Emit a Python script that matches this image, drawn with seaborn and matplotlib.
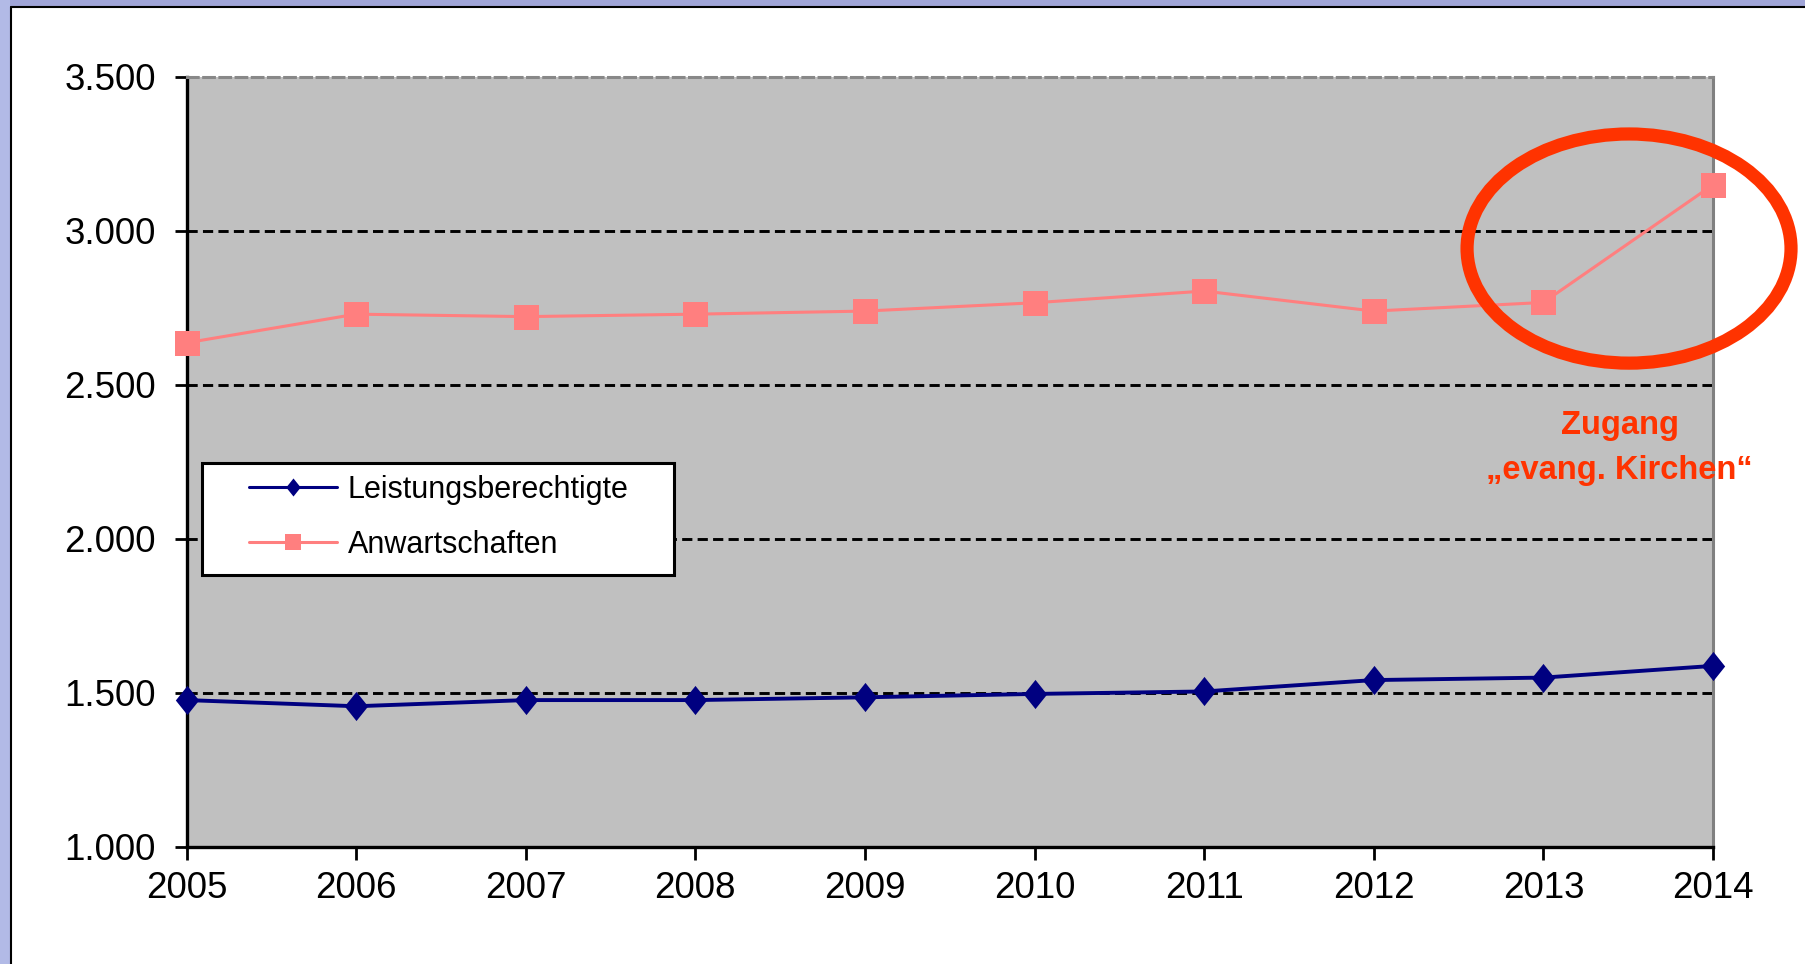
import numpy as np
import pandas as pd
import matplotlib.pyplot as plt
import seaborn as sns
from matplotlib.patches import Ellipse, Rectangle
from matplotlib.lines import Line2D

# data
years = [2005, 2006, 2007, 2008, 2009, 2010, 2011, 2012, 2013, 2014]
leistung = [1477, 1457, 1477, 1477, 1486, 1497, 1505, 1542, 1550, 1588]
anwart = [2637, 2730, 2722, 2730, 2740, 2767, 2805, 2740, 2768, 3150]
series_names = ['Leistungsberechtigte', 'Anwartschaften']
y_ticks = [1000, 1500, 2000, 2500, 3000, 3500]
y_tick_labels = ['1.000', '1.500', '2.000', '2.500', '3.000', '3.500']
note_lines = ['Zugang', '\u201eevang. Kirchen\u201c']

df = pd.DataFrame({
    'Jahr': years * 2,
    'Wert': leistung + anwart,
    'Reihe': [series_names[0]] * len(years) + [series_names[1]] * len(years),
})

colors = {series_names[0]: '#000080', series_names[1]: '#FF7F7F'}
diamond = [(0, 1), (0.8, 0), (0, -1), (-0.8, 0), (0, 1)]
markers = {series_names[0]: diamond, series_names[1]: 's'}
red = '#FF3300'

sns.set_style('white')
plt.rcParams['font.family'] = ['Liberation Sans', 'DejaVu Sans']

W, H = 1805, 964
fig = plt.figure(figsize=(W / 100, H / 100), dpi=100)
fig.patch.set_facecolor('white')

# pixel box of the plot area
px_l, px_r, px_t, px_b = 186.5, 1713, 77, 847
ax = fig.add_axes([px_l / W, 1 - px_b / H, (px_r - px_l) / W, (px_b - px_t) / H])
ax.set_facecolor('#C0C0C0')

for v in y_ticks[1:-1]:
    ax.axhline(v, color='black', lw=2.1, ls=(0, (3.5, 1.8)), zorder=1)

sns.lineplot(data=df, x='Jahr', y='Wert', hue='Reihe', style='Reihe',
             palette=colors, markers=markers, dashes=False, legend=False,
             ax=ax, zorder=3, markeredgewidth=0, clip_on=False)

lines = ax.get_lines()[-2:]
lines[0].set_linewidth(2.8)
lines[0].set_markersize(21)
lines[1].set_linewidth(2.2)
lines[1].set_markersize(18)

ax.set_xlim(years[0], years[-1])
ax.set_ylim(y_ticks[0], y_ticks[-1])
ax.set_xticks(years)
ax.set_xticklabels([str(y) for y in years])
ax.set_yticks(y_ticks)
ax.set_yticklabels(y_tick_labels)
ax.set_xlabel('')
ax.set_ylabel('')
ax.tick_params(axis='y', which='major', labelsize=26.5, length=9, width=2,
               pad=13, direction='out', left=True, colors='black')
ax.tick_params(axis='x', which='major', labelsize=26.5, length=9, width=2,
               pad=8, direction='out', bottom=True, colors='black')

for s in ['left', 'bottom']:
    ax.spines[s].set_color('black')
    ax.spines[s].set_linewidth(2.4)
ax.spines['right'].set_color('#808080')
ax.spines['right'].set_linewidth(2.2)
ax.spines['top'].set_color('#888888')
ax.spines['top'].set_linewidth(2.2)
ax.spines['top'].set_linestyle((0, (3.5, 1.8)))

# legend box
aw, ah = px_r - px_l, px_b - px_t
box = Rectangle(((202 - px_l) / aw, (px_b - 575) / ah), (674 - 202) / aw, (575 - 463) / ah,
                transform=ax.transAxes, facecolor='white', edgecolor='black',
                lw=2.2, zorder=4)
ax.add_patch(box)
handles = [
    Line2D([], [], color=colors[series_names[0]], lw=2.2, marker=diamond,
           markersize=13, markeredgewidth=0),
    Line2D([], [], color=colors[series_names[1]], lw=2.2, marker='s',
           markersize=12, markeredgewidth=0),
]
leg = ax.legend(handles, series_names, loc='center left',
                bbox_to_anchor=((249 - px_l) / aw, (px_b - 517.5) / ah),
                frameon=False, borderaxespad=0, borderpad=0, fontsize=22,
                handlelength=2.88, handletextpad=0.36, labelspacing=0.83)
leg.set_zorder(5)
for t in leg.get_texts():
    t.set_color('black')

# highlight ellipse and note
ell = Ellipse((2013.505, 2943), 1.91, 744, fill=False, edgecolor=red, lw=9.5,
              clip_on=False, zorder=6)
ax.add_patch(ell)
ax.text(2013.45, 2341, note_lines[0], ha='center', va='baseline', color=red,
        fontsize=23.5, fontweight='bold', clip_on=False, zorder=6)
ax.text(2013.45, 2195, note_lines[1], ha='center', va='baseline', color=red,
        fontsize=23.5, fontweight='bold', clip_on=False, zorder=6)

# slide frame
fig.add_artist(Rectangle((0, 1 - 6 / H), 1, 6 / H, transform=fig.transFigure,
                         facecolor='#A0A5D8', edgecolor='none'))
fig.add_artist(Rectangle((0, 0), 10 / W, 1, transform=fig.transFigure,
                         facecolor='#B2BAE6', edgecolor='none'))
fig.add_artist(Line2D([10.5 / W, 1], [1 - 6.5 / H, 1 - 6.5 / H],
                      transform=fig.transFigure, color='black', lw=1.5))
fig.add_artist(Line2D([10.5 / W, 10.5 / W], [0, 1 - 6.5 / H],
                      transform=fig.transFigure, color='black', lw=1.5))

fig.savefig('out.png', dpi=100)
